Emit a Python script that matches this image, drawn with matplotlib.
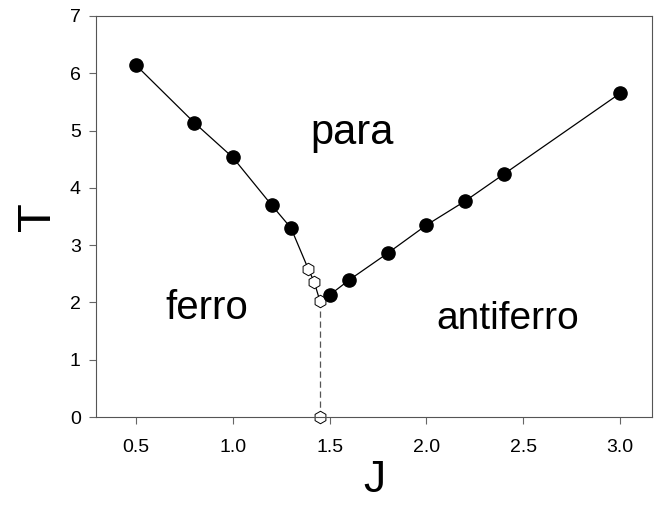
import matplotlib
matplotlib.use("Agg")
import matplotlib.pyplot as plt

plt.rcParams["font.family"] = ["Liberation Sans", "DejaVu Sans"]

# transition line, ferro side (solid points)
j_ferro = [0.5, 0.8, 1.0, 1.2, 1.3]
t_ferro = [6.14, 5.14, 4.53, 3.70, 3.30]

# first-order points near the triple point (open hexagons)
j_open = [1.39, 1.42, 1.45]
t_open = [2.58, 2.36, 2.02]

# vertical boundary between ferro and antiferro
j_vert = [1.45, 1.45]
t_vert = [2.02, 0.0]

# transition line, antiferro side
j_anti = [1.5, 1.6, 1.8, 2.0, 2.2, 2.4, 3.0]
t_anti = [2.13, 2.39, 2.86, 3.35, 3.77, 4.24, 5.65]

fig = plt.figure(figsize=(6.6, 5.07), dpi=100)
ax = fig.add_axes([96 / 660, 90 / 507, 556 / 660, 401 / 507])

ax.plot(j_ferro + j_open, t_ferro + t_open, color="black", lw=0.9, zorder=1)
ax.plot(j_anti, t_anti, color="black", lw=0.9, zorder=1)
ax.plot(j_vert, t_vert, color="#555555", lw=0.9, ls=(0, (5, 3)), zorder=1)

ax.plot(j_ferro, t_ferro, "o", color="black", ms=9.5, zorder=3, clip_on=False)
ax.plot(j_anti, t_anti, "o", color="black", ms=9.5, zorder=3, clip_on=False)
ax.plot(j_open + [j_vert[1]], t_open + [t_vert[1]], "h", mfc="white", mec="black",
        mew=0.7, ms=9, zorder=2, clip_on=False)

ax.text(1.616, 4.96, "para", fontsize=30, ha="center", va="center")
ax.text(0.867, 1.90, "ferro", fontsize=29, ha="center", va="center")
ax.text(2.42, 1.71, "antiferro", fontsize=28, ha="center", va="center")

ax.set_xlim(0.293, 3.165)
ax.set_ylim(0, 7)
ax.set_xticks([0.5, 1.0, 1.5, 2.0, 2.5, 3.0])
ax.set_xticklabels(["0.5", "1.0", "1.5", "2.0", "2.5", "3.0"])
ax.set_yticks(range(8))
ax.tick_params(direction="out", length=5, width=0.8, colors="#666666",
               labelcolor="black", labelsize=14, pad=6)
ax.tick_params(axis="x", pad=11)
for s in ax.spines.values():
    s.set_color("#555555")
    s.set_linewidth(0.8)

ax.set_xlabel("J", fontsize=32, labelpad=3)
ax.set_ylabel("T", fontsize=34, labelpad=7)

fig.savefig("out.png", dpi=100)
